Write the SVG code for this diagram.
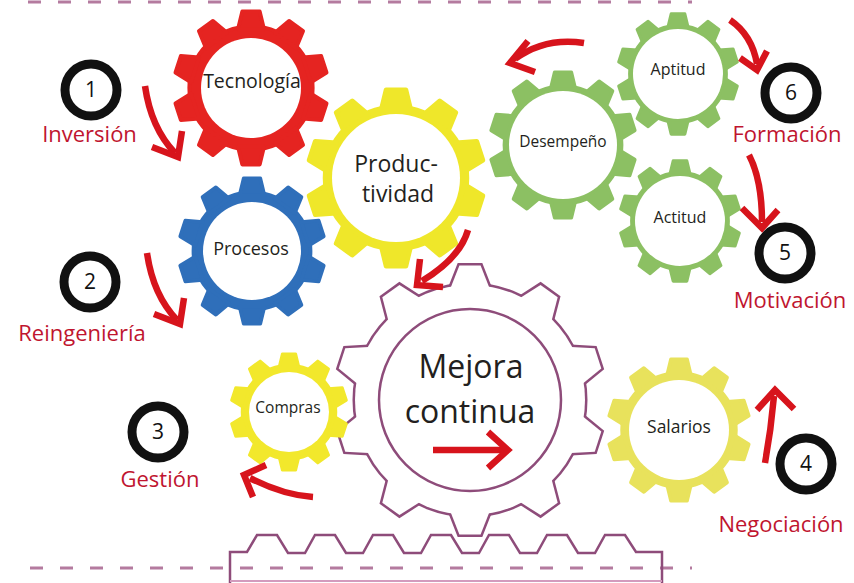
<svg xmlns="http://www.w3.org/2000/svg" width="854" height="583" viewBox="0 0 854 583">
<style>
.gl{font-family:"Open Sans","Liberation Sans",sans-serif;fill:#231f20;text-anchor:middle}
.sb{font-weight:500}
.lbl{font-family:"Open Sans","Liberation Sans",sans-serif;fill:#c0152f;font-size:22px;text-anchor:middle}
.num{font-family:"Open Sans","Liberation Sans",sans-serif;fill:#111;font-size:21px;text-anchor:middle}
.ring{fill:#fff;stroke:#111;stroke-width:9}
.hole{fill:#fff}
.arr{fill:none;stroke:#d7141c;stroke-width:6.5}
.head{fill:none;stroke:#d7141c;stroke-width:6.5;stroke-linejoin:miter;stroke-miterlimit:10}
.dash{stroke:#b47b9f;stroke-width:3;stroke-dasharray:13 17;fill:none}
.mauve{fill:none;stroke:#8e4c7a;stroke-width:2.5}
</style>
<defs>
<path id="tooth" d="M-16.9,-76.2 L-11.3,-99.4 L11.3,-99.4 L16.9,-76.2 Z"/>
<g id="gear" stroke-width="5" stroke-linejoin="round">
<circle r="80"/>
<use href="#tooth"/>
<use href="#tooth" transform="rotate(36)"/>
<use href="#tooth" transform="rotate(72)"/>
<use href="#tooth" transform="rotate(108)"/>
<use href="#tooth" transform="rotate(144)"/>
<use href="#tooth" transform="rotate(180)"/>
<use href="#tooth" transform="rotate(216)"/>
<use href="#tooth" transform="rotate(252)"/>
<use href="#tooth" transform="rotate(288)"/>
<use href="#tooth" transform="rotate(324)"/>
</g>
<path id="mt" d="M-21,-108 L-10.6,-134.6 L10.6,-134.6 L21,-108 Z"/>
<g id="mgear">
<circle r="115"/>
<use href="#mt"/>
<use href="#mt" transform="rotate(36)"/>
<use href="#mt" transform="rotate(72)"/>
<use href="#mt" transform="rotate(108)"/>
<use href="#mt" transform="rotate(144)"/>
<use href="#mt" transform="rotate(180)"/>
<use href="#mt" transform="rotate(216)"/>
<use href="#mt" transform="rotate(252)"/>
<use href="#mt" transform="rotate(288)"/>
<use href="#mt" transform="rotate(324)"/>
</g>
</defs>
<rect width="854" height="583" fill="#fff"/>

<g id="guides">
<line class="dash" x1="28" y1="2" x2="692" y2="2"/>
<line class="dash" x1="30" y1="568" x2="692" y2="568"/>
</g>

<g id="rack">
<path class="mauve" d="M230,583 L230,552 L247,552 L257,535 L277,535 L288,553 L305,553 L315,535 L335,535 L346,553 L363,553 L373,535 L393,535 L404,553 L421,553 L431,535 L451,535 L462,553 L479,553 L489,535 L509,535 L520,553 L537,553 L547,535 L567,535 L578,553 L595,553 L605,535 L625,535 L636,552 L662,552 L662,583"/>
<line x1="230" y1="581" x2="662" y2="581" stroke="#d39bbd" stroke-width="2"/>
</g>

<g id="mejora">
<use href="#mgear" transform="translate(470,400)" fill="#fff" stroke="#8e4c7a" stroke-width="5" stroke-linejoin="miter"/>
<use href="#mgear" transform="translate(470,400)" fill="#fff"/>
<circle cx="470" cy="400" r="91" class="mauve"/>
<text class="gl" x="471" y="378" font-size="32">Mejora</text>
<text class="gl" x="470" y="423" font-size="32">continua</text>
</g>

<g id="productividad">
<use href="#gear" transform="translate(396,178) scale(0.888)" fill="#efe72a" stroke="#efe72a"/>
<circle class="hole" cx="396" cy="178" r="64"/>
<text class="gl" x="396" y="172" font-size="23">Produc-</text>
<text class="gl" x="398" y="202" font-size="23">tividad</text>
</g>

<g id="tecnologia">
<use href="#gear" transform="translate(251,88) scale(0.771)" fill="#e52421" stroke="#e52421"/>
<circle class="hole" cx="251" cy="88" r="50"/>
<text class="gl" x="252" y="88" font-size="19.5">Tecnología</text>
</g>

<g id="procesos">
<use href="#gear" transform="translate(252,251) scale(0.732)" fill="#2f6fba" stroke="#2f6fba"/>
<circle class="hole" cx="252" cy="251" r="49"/>
<text class="gl" x="251" y="255" font-size="18">Procesos</text>
</g>

<g id="desempeno">
<use href="#gear" transform="translate(563,145) scale(0.732)" fill="#8cc063" stroke="#8cc063"/>
<circle class="hole" cx="563" cy="145" r="54"/>
<text class="gl sb" x="563" y="147" font-size="15.5">Desempeño</text>
</g>

<g id="aptitud">
<use href="#gear" transform="translate(678,74) scale(0.605)" fill="#8cc063" stroke="#8cc063"/>
<circle class="hole" cx="678" cy="74" r="45"/>
<text class="gl sb" x="678" y="75" font-size="16">Aptitud</text>
</g>

<g id="actitud">
<use href="#gear" transform="translate(680,221) scale(0.605)" fill="#8cc063" stroke="#8cc063"/>
<circle class="hole" cx="680" cy="221" r="45"/>
<text class="gl sb" x="680" y="223" font-size="16">Actitud</text>
</g>

<g id="compras">
<use href="#gear" transform="translate(289,412) scale(0.585)" fill="#f2e82c" stroke="#f2e82c"/>
<circle class="hole" cx="289" cy="412" r="40"/>
<text class="gl sb" x="288" y="413" font-size="15.5">Compras</text>
</g>

<g id="salarios">
<use href="#gear" transform="translate(679,430) scale(0.712)" fill="#e8e25c" stroke="#e8e25c"/>
<circle class="hole" cx="679" cy="430" r="50"/>
<text class="gl sb" x="679" y="433" font-size="17.5">Salarios</text>
</g>

<g id="step1">
<circle class="ring" cx="91" cy="90" r="26"/>
<text class="num" x="91" y="97">1</text>
<text class="lbl" x="89.5" y="142">Inversión</text>
</g>
<g id="step2">
<circle class="ring" cx="90" cy="282" r="26"/>
<text class="num" x="90" y="289">2</text>
<text class="lbl" x="82" y="341">Reingeniería</text>
</g>
<g id="step3">
<circle class="ring" cx="158" cy="432" r="26"/>
<text class="num" x="158" y="439">3</text>
<text class="lbl" x="160" y="487">Gestión</text>
</g>
<g id="step4">
<circle class="ring" cx="806" cy="464" r="26"/>
<text class="num" x="806" y="471">4</text>
<text class="lbl" x="781" y="532">Negociación</text>
</g>
<g id="step5">
<circle class="ring" cx="785" cy="253" r="26"/>
<text class="num" x="785" y="260">5</text>
<text class="lbl" x="790" y="308">Motivación</text>
</g>
<g id="step6">
<circle class="ring" cx="791" cy="93" r="26"/>
<text class="num" x="791" y="100">6</text>
<text class="lbl" x="787" y="142">Formación</text>
</g>

<g id="connectors">
<path class="arr" d="M145,86 Q151,128 175,153"/>
<polyline class="head" points="152,147 178,157 182,131"/>
<path class="arr" d="M147,253 Q153,295 177,320"/>
<polyline class="head" points="154,314 180,324 184,298"/>
<path class="arr" d="M313,497 Q283,495 250,478"/>
<polyline class="head" points="266,465 244,475 253,497"/>
<path class="arr" d="M765,463 Q771,430 774,396"/>
<polyline class="head" points="757,410 775,390 794,409"/>
<path class="arr" d="M749,155 Q762,180 762,222"/>
<polyline class="head" points="742,208 762,228 778,210"/>
<path class="arr" d="M730,20 Q752,35 757,64"/>
<polyline class="head" points="740,58 757,70 767,51"/>
<path class="arr" d="M584,43 Q545,37 515,59"/>
<polyline class="head" points="528,41 510,63 535,72"/>
<path class="arr" d="M468,230 Q460,258 422,281"/>
<polyline class="head" points="420,259 417,285 443,287"/>
<path class="arr" d="M433,450 L506,450"/>
<polyline class="head" points="488,432 508,450 488,468"/>
</g>
</svg>
